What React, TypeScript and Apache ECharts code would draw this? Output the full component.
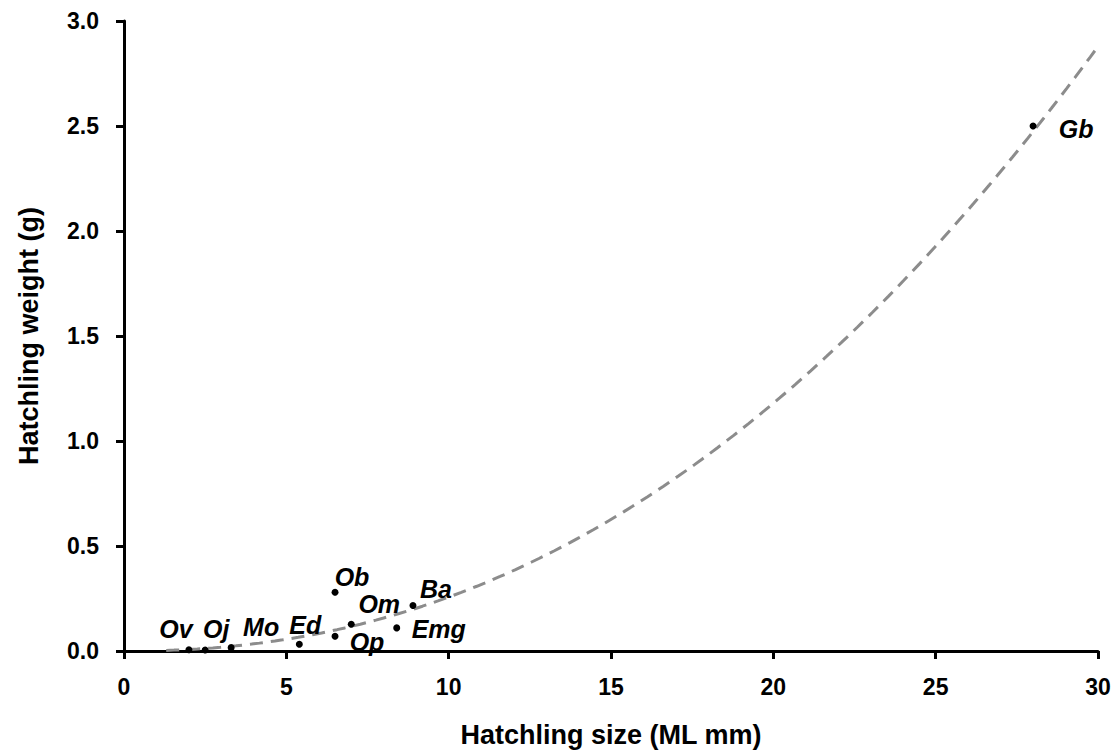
import React, { useEffect, useRef } from "react";
import * as echarts from "echarts";

// Species abbreviations, hatchling mantle length (mm) and weight (g)
const species = ["Ov", "Oj", "Mo", "Ed", "Op", "Ob", "Om", "Emg", "Ba", "Gb"];
const sizeML = [2.0, 2.5, 3.3, 5.4, 6.5, 6.5, 7.0, 8.4, 8.9, 28.0];
const weightG = [0.006, 0.005, 0.016, 0.032, 0.07, 0.28, 0.127, 0.11, 0.217, 2.5];

// power trend line y = a * x^b
const trendA = 0.00162;
const trendB = 2.2;
const trendStart = 1.3;
const trendEnd = 30;
const trendSteps = 120;

const xTicks = [0, 5, 10, 15, 20, 25, 30];
const yTicks = [0, 0.5, 1.0, 1.5, 2.0, 2.5, 3.0];

// label offsets (pixels) relative to each point
const labelOffsets: Record<string, [number, number]> = {
  Ov: [-13, -21],
  Oj: [11, -21],
  Mo: [30, -21],
  Ed: [6, -19],
  Op: [32, 6],
  Ob: [17, -15],
  Om: [28, -20],
  Emg: [42, 1],
  Ba: [23, -16],
  Gb: [43, 3],
};

const FONT = "'Liberation Sans', Arial, sans-serif";

export default function App() {
  const ref = useRef<HTMLDivElement>(null);
  useEffect(() => {
    if (!ref.current) return;
    const chart = echarts.init(ref.current, undefined, { renderer: "svg" });
    const trend: number[][] = [];
    for (let i = 0; i <= trendSteps; i++) {
      const x = trendStart + ((trendEnd - trendStart) * i) / trendSteps;
      trend.push([x, trendA * Math.pow(x, trendB)]);
    }
    const points = species.map((s, i) => ({
      value: [sizeML[i], weightG[i]],
      name: s,
    }));
    chart.setOption({
      animation: false,
      backgroundColor: "#ffffff",
      grid: { left: 124, right: 22, top: 21, bottom: 99 },
      xAxis: {
        type: "value",
        min: xTicks[0],
        max: xTicks[xTicks.length - 1],
        interval: 5,
        splitLine: { show: false },
        axisLine: { show: true, onZero: false, lineStyle: { color: "#000", width: 3 } },
        axisTick: { show: true, length: 8, lineStyle: { color: "#000", width: 3 } },
        axisLabel: {
          margin: 24,
          color: "#000",
          fontFamily: FONT,
          fontWeight: "bold",
          fontSize: 23,
        },
        name: "Hatchling size (ML mm)",
        nameLocation: "middle",
        nameGap: 70,
        nameTextStyle: { color: "#000", fontFamily: FONT, fontWeight: "bold", fontSize: 27 },
      },
      yAxis: {
        type: "value",
        min: yTicks[0],
        max: yTicks[yTicks.length - 1],
        interval: 0.5,
        splitLine: { show: false },
        axisLine: { show: true, lineStyle: { color: "#000", width: 3 } },
        axisTick: { show: true, length: 8, lineStyle: { color: "#000", width: 3 } },
        axisLabel: {
          margin: 25,
          color: "#000",
          fontFamily: FONT,
          fontWeight: "bold",
          fontSize: 23,
          formatter: (v: number) => v.toFixed(1),
        },
        name: "Hatchling weight (g)",
        nameLocation: "middle",
        nameGap: 82,
        nameTextStyle: { color: "#000", fontFamily: FONT, fontWeight: "bold", fontSize: 27 },
      },
      series: [
        {
          type: "line",
          data: trend,
          showSymbol: false,
          symbol: "none",
          smooth: false,
          lineStyle: { color: "#8c8c8c", width: 3, type: [13, 8] },
          z: 1,
          silent: true,
        },
        {
          type: "scatter",
          data: points,
          symbol: "circle",
          symbolSize: 7,
          itemStyle: { color: "#000", opacity: 1 },
          z: 3,
          label: { show: false },
        },
        {
          type: "scatter",
          data: points,
          symbol: "circle",
          symbolSize: 1,
          itemStyle: { color: "rgba(0,0,0,0)", opacity: 1 },
          z: 4,
          silent: true,
          label: {
            show: true,
            position: "inside",
            formatter: (p: any) => p.name,
            color: "#000",
            opacity: 1,
            textBorderWidth: 0,
            fontFamily: FONT,
            fontWeight: "bold",
            fontStyle: "italic",
            fontSize: 25,
            align: "center",
            verticalAlign: "middle",
          },
          labelLayout: (params: any) => {
            const off = labelOffsets[species[params.dataIndex]];
            return { dx: off[0], dy: off[1], hideOverlap: false };
          },
        },
      ],
    });
    return () => chart.dispose();
  }, []);
  return (
    <div
      ref={ref}
      style={{ position: "fixed", left: 0, top: 0, width: 1120, height: 753, background: "#fff" }}
    />
  );
}
